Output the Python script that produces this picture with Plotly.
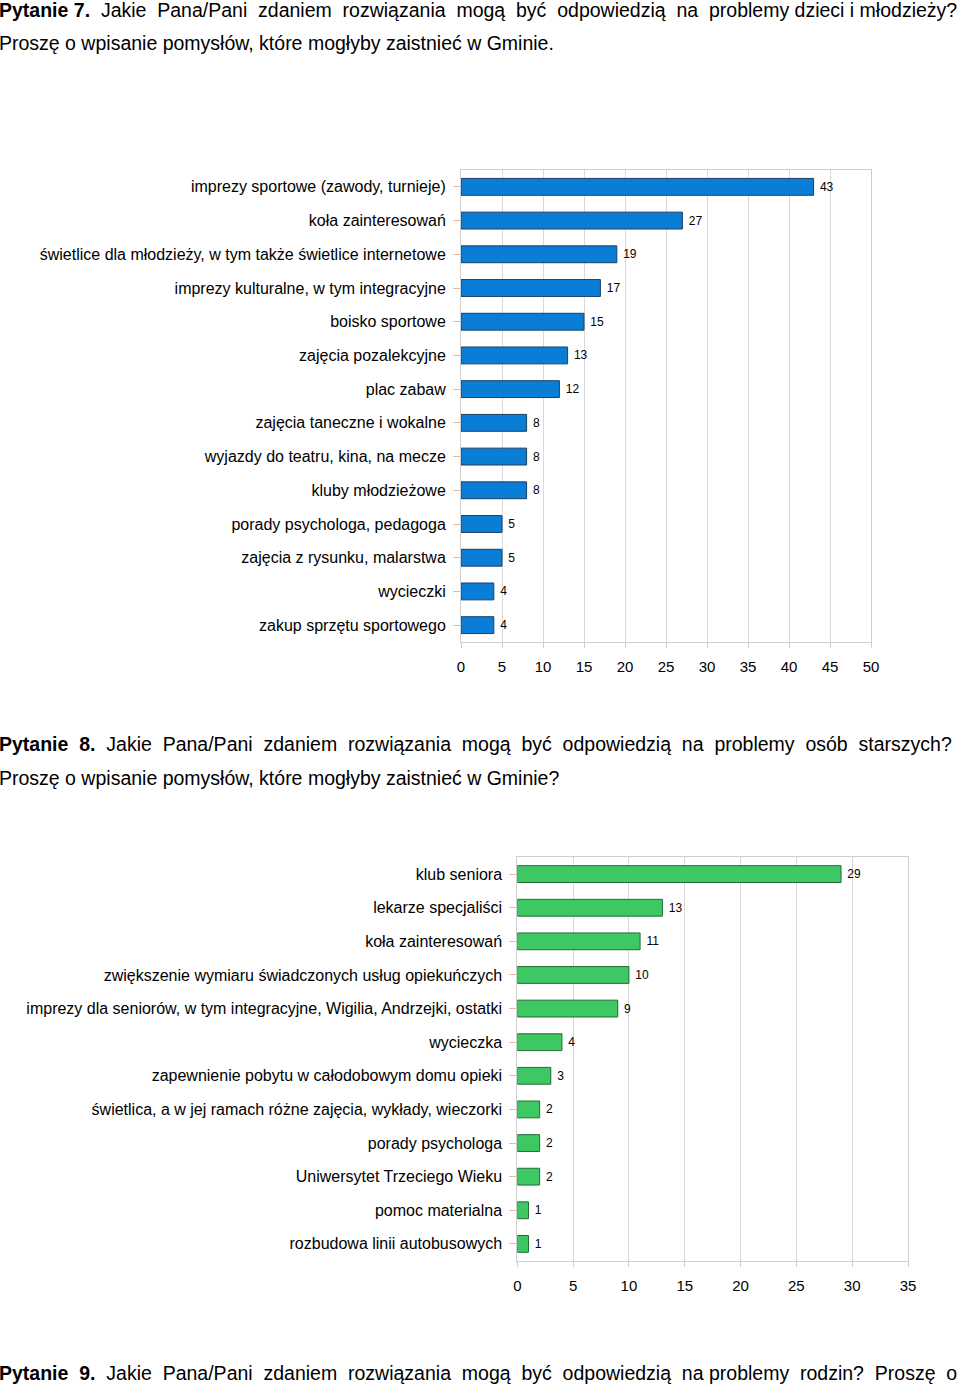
import plotly.graph_objects as go

W, H = 960, 1385

cats1 = ["imprezy sportowe (zawody, turnieje)", "koła zainteresowań",
         "świetlice dla młodzieży, w tym także świetlice internetowe",
         "imprezy kulturalne, w tym integracyjne", "boisko sportowe",
         "zajęcia pozalekcyjne", "plac zabaw", "zajęcia taneczne i wokalne",
         "wyjazdy do teatru, kina, na mecze", "kluby młodzieżowe",
         "porady psychologa, pedagoga", "zajęcia z rysunku, malarstwa",
         "wycieczki", "zakup sprzętu sportowego"]
vals1 = [43, 27, 19, 17, 15, 13, 12, 8, 8, 8, 5, 5, 4, 4]
ticks1 = [0, 5, 10, 15, 20, 25, 30, 35, 40, 45, 50]

cats2 = ["klub seniora", "lekarze specjaliści", "koła zainteresowań",
         "zwiększenie wymiaru świadczonych usług opiekuńczych",
         "imprezy dla seniorów, w tym integracyjne, Wigilia, Andrzejki, ostatki",
         "wycieczka", "zapewnienie pobytu w całodobowym domu opieki",
         "świetlica, a w jej ramach różne zajęcia, wykłady, wieczorki",
         "porady psychologa", "Uniwersytet Trzeciego Wieku",
         "pomoc materialna", "rozbudowa linii autobusowych"]
vals2 = [29, 13, 11, 10, 9, 4, 3, 2, 2, 2, 1, 1]
ticks2 = [0, 5, 10, 15, 20, 25, 30, 35]

headings = [
    ("<b>Pytanie 7.</b>  Jakie  Pana/Pani  zdaniem  rozwiązania  mogą  być  odpowiedzią  na  problemy dzieci i młodzieży?", 10, 19.5),
    ("Proszę o wpisanie pomysłów, które mogłyby zaistnieć w Gminie.", 43, 19.5),
    ("<b>Pytanie  8.</b>  Jakie  Pana/Pani  zdaniem  rozwiązania  mogą  być  odpowiedzią  na  problemy  osób  starszych?", 744, 19.5),
    ("Proszę o wpisanie pomysłów, które mogłyby zaistnieć w Gminie?", 778, 19.5),
    ("<b>Pytanie  9.</b>  Jakie  Pana/Pani  zdaniem  rozwiązania  mogą  być  odpowiedzią  na problemy  rodzin?  Proszę  o", 1373, 19.5),
]

LABEL_FONT = "Liberation Sans, Arial, sans-serif"
HEAD_FONT = "Liberation Sans, Arial, sans-serif"


def py(px):
    return 1 - px / H


fig = go.Figure()
fig.add_trace(go.Bar(
    x=vals1, y=cats1, orientation="h", width=0.5,
    marker=dict(color="#0a7dd6", line=dict(color="#1c3f63", width=1)),
    text=[" " + str(v) for v in vals1], textposition="outside",
    textfont=dict(size=12, color="#000", family=LABEL_FONT),
    cliponaxis=False, xaxis="x", yaxis="y", showlegend=False))
fig.add_trace(go.Bar(
    x=vals2, y=cats2, orientation="h", width=0.5,
    marker=dict(color="#3dc864", line=dict(color="#226b36", width=1)),
    text=[" " + str(v) for v in vals2], textposition="outside",
    textfont=dict(size=12, color="#000", family=LABEL_FONT),
    cliponaxis=False, xaxis="x2", yaxis="y2", showlegend=False))

xcommon = dict(showgrid=True, gridcolor="#d9d9d9", gridwidth=1,
               showline=True, linecolor="#cfcfcf", linewidth=1, mirror=True,
               ticks="outside", ticklen=5, tickcolor="#cfcfcf",
               ticklabelstandoff=6,
               tickfont=dict(size=15, color="#000", family=LABEL_FONT),
               zeroline=False, fixedrange=True, automargin=False)
ycommon = dict(showgrid=False, showline=True, linecolor="#cfcfcf", linewidth=1,
               mirror=True, ticks="outside", ticklen=7, tickcolor="#e8b8a8",
               ticklabelstandoff=4, automargin=False,
               tickfont=dict(size=16, color="#000", family=LABEL_FONT),
               autorange="reversed", fixedrange=True)

fig.update_layout(
    width=W, height=H, margin=dict(l=0, r=0, t=0, b=0, pad=0, autoexpand=False),
    paper_bgcolor="white", plot_bgcolor="white",
    bargap=0.5,
    xaxis=dict(xcommon, domain=[461 / W, 871 / W], range=[0, 50],
               tickvals=ticks1, anchor="y"),
    yaxis=dict(ycommon, domain=[py(642), py(170)], anchor="x"),
    xaxis2=dict(xcommon, domain=[517.3 / W, 908 / W], range=[0, 35],
                tickvals=ticks2, anchor="y2"),
    yaxis2=dict(ycommon, domain=[py(1260.7), py(857.3)], anchor="x2"),
)

for txt, ypx, fs in headings:
    fig.add_annotation(text=txt, x=-3 / W, y=py(ypx), xref="paper", yref="paper",
                       xanchor="left", yanchor="middle", showarrow=False,
                       font=dict(size=fs, color="#000", family=HEAD_FONT))

post = """
var de=document.documentElement, b=document.body;
[de,b].forEach(function(e){e.style.margin='0';e.style.padding='0';e.style.overflow='hidden';});
"""

fig.write_html(
    "out.html",
    config={"displayModeBar": False, "responsive": False},
    default_width="960px", default_height="1385px",
    post_script=post,
)
